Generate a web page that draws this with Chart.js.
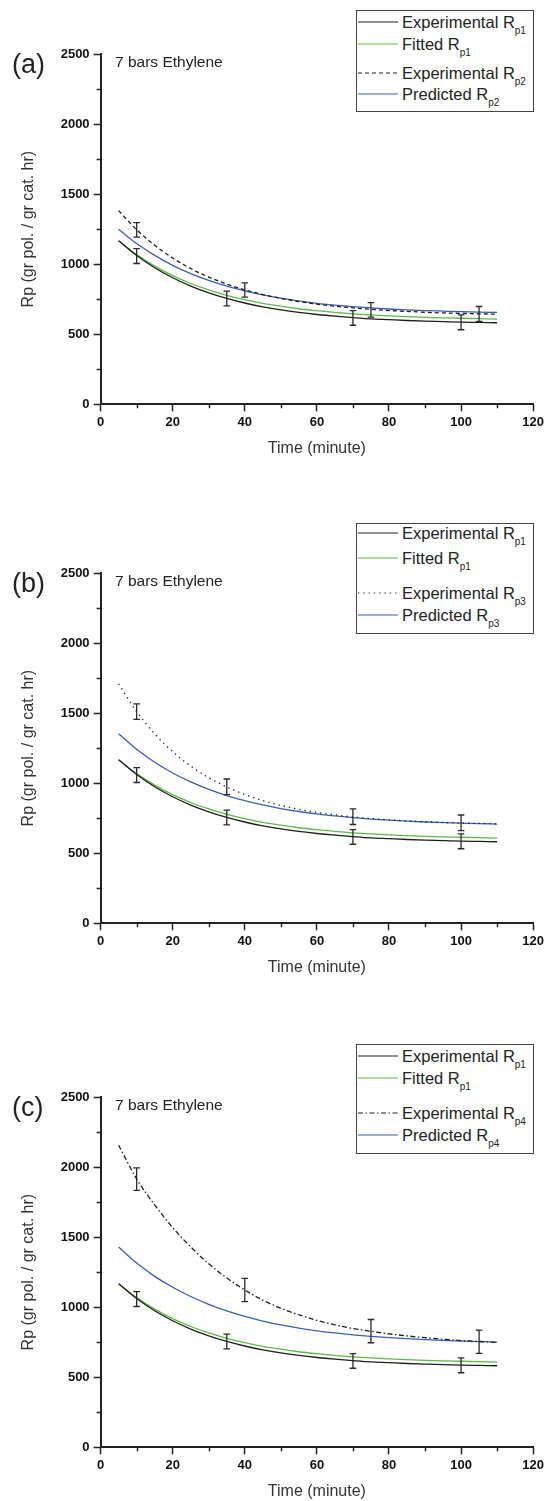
<!DOCTYPE html>
<html>
<head>
<meta charset="utf-8">
<script src="https://cdn.jsdelivr.net/npm/chart.js@4.4.1/dist/chart.umd.min.js"></script>
<style>
  html, body { margin:0; padding:0; background:#fff; overflow:hidden; }
  body { width:547px; height:1501px; position:relative; font-family:"Liberation Sans", Arial, sans-serif; color:#222; }
  .panel { position:absolute; left:0; width:547px; height:458px; }
  .panel canvas { position:absolute; left:0; top:0; }
  .tag { position:absolute; left:12px; font-size:27px; line-height:27px; color:#222; }
  .note { position:absolute; left:115px; font-size:15.5px; line-height:16px; color:#222; }
  .legend { position:absolute; left:356px; width:176px; border:1px solid #444; background:#fff; }
  .row { position:absolute; left:0; height:18px; display:flex; align-items:center; font-size:16.5px; line-height:18px; white-space:nowrap; }
  .row svg { display:block; margin-right:4px; flex:none; }
  .row sub { font-size:10px; vertical-align:-6px; line-height:0; }
</style>
</head>
<body>
<div class="panel" id="pa" style="top:0px"><canvas id="ca" width="547" height="458"></canvas></div>
<div class="panel" id="pb" style="top:519px"><canvas id="cb" width="547" height="458"></canvas></div>
<div class="panel" id="pc" style="top:1043px"><canvas id="cc" width="547" height="458"></canvas></div>
<script>
// time (minute) for the curves
const tMin = [5,10,15,20,25,30,35,40,45,50,55,60,65,70,75,80,85,90,95,100,105,110];

// Rp1 (same in all three panels)
const expRp1 = [1168,1062,975,903,844,796,756,723,696,674,656,641,629,619,610,604,598,593,590,586,584,582];
const fitRp1 = [1168,1068,986,918,862,816,778,747,721,700,682,668,656,646,638,631,626,621,617,614,611,608];

// panel (a)
const expRp2  = [1382,1246,1135,1044,969,908,858,817,783,756,733,715,700,688,678,669,663,657,652,649,646,643];
const predRp2 = [1249,1147,1063,992,933,884,843,810,781,757,738,721,708,697,688,680,674,669,665,661,658,656];
// panel (b)
const expRp3  = [1709,1511,1352,1225,1122,1039,973,919,876,842,814,792,774,759,748,738,731,725,720,716,713,710];
const predRp3 = [1353,1242,1149,1073,1009,956,912,875,845,819,798,781,766,754,744,736,729,723,719,715,711,708];
// panel (c)
const expRp4  = [2156,1915,1730,1568,1430,1310,1208,1123,1050,992,946,906,874,848,828,810,795,782,771,762,755,749];
const predRp4 = [1430,1315,1220,1142,1076,1020,973,934,901,873,850,831,816,803,792,783,775,768,763,758,754,751];

// error bars
const errT1 = [10,35,70,100],  errRp1 = [1058,755,616,585],  errDev1 = [53,52,52,53];
const errT2 = [10,40,75,105],  errRp2 = [1245,816,674,645],  errDev2 = [52,51,52,53];
const errT3 = [10,35,70,100],  errRp3 = [1511,974,761,717],  errDev3 = [55,56,56,56];
const errT4 = [10,40,75,105],  errRp4 = [1914,1123,829,753], errDev4 = [80,83,83,83];

const BLACK = '#1e1e1e', GREEN = '#5cb946', BLUE = '#3b5db5';
const FONT = '"Liberation Sans", Arial, sans-serif';

function pts(vals){ return tMin.map((t,i) => ({x:t, y:vals[i]})); }

const errorBars = {
  id:'errorBars',
  afterDatasetsDraw(chart, args, opts){
    const {ctx, scales:{x, y}} = chart;
    ctx.save();
    ctx.strokeStyle = '#2a2a2a';
    ctx.lineWidth = 1.3;
    opts.sets.forEach(s => {
      s.t.forEach((t,i) => {
        const px = x.getPixelForValue(t);
        const top = y.getPixelForValue(s.v[i] + s.d[i]);
        const bot = y.getPixelForValue(s.v[i] - s.d[i]);
        ctx.beginPath();
        ctx.moveTo(px, top); ctx.lineTo(px, bot);
        ctx.moveTo(px-3.3, top); ctx.lineTo(px+3.3, top);
        ctx.moveTo(px-3.3, bot); ctx.lineTo(px+3.3, bot);
        ctx.stroke();
      });
    });
    ctx.restore();
  }
};

const minorTicks = {
  id:'minorTicks',
  afterDraw(chart){
    const {ctx, scales:{x, y}, chartArea:a} = chart;
    ctx.save();
    ctx.strokeStyle = '#222';
    ctx.lineWidth = 1.5;
    ctx.beginPath();
    for (let v = 250; v < 2500; v += 500){
      const py = Math.round(y.getPixelForValue(v)) + 0.5;
      ctx.moveTo(a.left - 4, py); ctx.lineTo(a.left, py);
    }
    for (let v = 10; v < 120; v += 20){
      const px = Math.round(x.getPixelForValue(v)) + 0.5;
      ctx.moveTo(px, a.bottom); ctx.lineTo(px, a.bottom + 4);
    }
    ctx.stroke();
    ctx.restore();
  }
};

const panels = [
  {canvas:'ca', box:'pa', tag:'(a)', sub:'p2', exp:expRp2, pred:predRp2, dash:[4,3],
   errs:[{t:errT1,v:errRp1,d:errDev1},{t:errT2,v:errRp2,d:errDev2}],
   legendTop:10, legendH:100, rows:[21.7,44,72.7,94]},
  {canvas:'cb', box:'pb', tag:'(b)', sub:'p3', exp:expRp3, pred:predRp3, dash:[1.3,4],
   errs:[{t:errT1,v:errRp1,d:errDev1},{t:errT3,v:errRp3,d:errDev3}],
   legendTop:4, legendH:109, rows:[14.3,39.3,73.7,96]},
  {canvas:'cc', box:'pc', tag:'(c)', sub:'p4', exp:expRp4, pred:predRp4, dash:[5,2.5,1.5,2.5],
   errs:[{t:errT1,v:errRp1,d:errDev1},{t:errT4,v:errRp4,d:errDev4}],
   legendTop:1, legendH:108, rows:[13,34.7,69.7,92]}
];

panels.forEach(p => {
  const datasets = [
    {label:'Experimental R', sub:'p1', data:pts(expRp1), borderColor:BLACK, borderDash:[]},
    {label:'Fitted R', sub:'p1', data:pts(fitRp1), borderColor:GREEN, borderDash:[]},
    {label:'Experimental R', sub:p.sub, data:pts(p.exp), borderColor:BLACK, borderDash:p.dash},
    {label:'Predicted R', sub:p.sub, data:pts(p.pred), borderColor:BLUE, borderDash:[]}
  ].map(d => Object.assign({borderWidth:1.3, pointRadius:0, fill:false, cubicInterpolationMode:'monotone'}, d));

  new Chart(document.getElementById(p.canvas), {
    type:'line',
    data:{datasets:datasets},
    plugins:[errorBars, minorTicks],
    options:{
      responsive:false,
      animation:false,
      layout:{padding:{top:54, right:11.6, left:0, bottom:0}},
      plugins:{
        legend:{display:false},
        tooltip:{enabled:false},
        errorBars:{sets:p.errs}
      },
      scales:{
        x:{
          type:'linear', min:0, max:120,
          ticks:{stepSize:20, color:'#111', padding:3, maxRotation:0, font:{family:FONT, size:13, weight:'bold'},
                 callback:v => String(v)},
          grid:{drawOnChartArea:false, tickLength:7, tickColor:'#222', tickWidth:1.5},
          border:{color:'#222', width:2},
          title:{display:true, text:'Time (minute)', color:'#333', font:{family:FONT, size:16}, padding:{top:0, bottom:0}},
          afterFit(s){ s.height = 53.7; }
        },
        y:{
          type:'linear', min:0, max:2500,
          ticks:{stepSize:500, color:'#111', padding:4, font:{family:FONT, size:13, weight:'bold'},
                 callback:v => String(v)},
          grid:{drawOnChartArea:false, tickLength:7, tickColor:'#222', tickWidth:1.5},
          border:{color:'#222', width:2},
          title:{display:true, text:'Rp (gr pol. / gr cat. hr)', color:'#333', font:{family:FONT, size:16}, padding:{top:19, bottom:0}},
          afterFit(s){ s.width = 100.6; }
        }
      }
    }
  });

  // panel label, annotation and legend
  const box = document.getElementById(p.box);
  const tag = document.createElement('div');
  tag.className = 'tag'; tag.style.top = '51px'; tag.textContent = p.tag;
  box.appendChild(tag);
  const note = document.createElement('div');
  note.className = 'note'; note.style.top = '54px'; note.textContent = '7 bars Ethylene';
  box.appendChild(note);

  const lg = document.createElement('div');
  lg.className = 'legend';
  lg.style.top = p.legendTop + 'px';
  lg.style.height = p.legendH + 'px';
  datasets.forEach((d, i) => {
    const row = document.createElement('div');
    row.className = 'row';
    row.style.top = (p.rows[i] - p.legendTop - 1 - 9) + 'px';
    const dash = d.borderDash.length ? ' stroke-dasharray="' + d.borderDash.join(' ') + '"' : '';
    row.innerHTML = '<svg width="41" height="4"><line x1="1" y1="2" x2="41" y2="2" stroke="' + d.borderColor +
      '" stroke-width="1.2"' + dash + '/></svg><span>' + d.label + '<sub>' + d.sub + '</sub></span>';
    lg.appendChild(row);
  });
  box.appendChild(lg);
});
</script>
</body>
</html>
